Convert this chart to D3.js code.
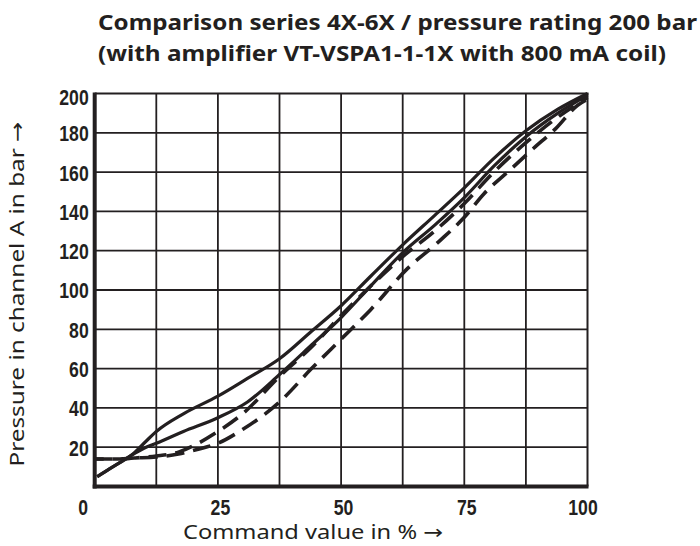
<!DOCTYPE html>
<html>
<head>
<meta charset="utf-8">
<script src="https://cdn.jsdelivr.net/npm/d3@7"></script>
<style>
  html, body { margin: 0; padding: 0; background: #fff; }
  svg { display: block; }
</style>
</head>
<body>
<svg id="chart" width="700" height="546"></svg>
<script>
// ---------- data ----------
const titleLines = [
  "Comparison series 4X-6X / pressure rating 200 bar",
  "(with amplifier VT-VSPA1-1-1X with 800 mA coil)"
];
const xAxisLabel = "Command value in %";
const yAxisLabel = "Pressure in channel A in bar";
const arrow = "→";

const xTickValues = [0, 25, 50, 75, 100];
const xGridValues = [0, 12.5, 25, 37.5, 50, 62.5, 75, 87.5, 100];
const yTickValues = [20, 40, 60, 80, 100, 120, 140, 160, 180, 200];

// solid curves (one series, rising / falling)
const solidUpperX = [0.5, 3, 5, 7.5, 10, 12.5, 18, 25, 31, 37.5, 44, 50, 56, 62.5, 69, 75, 81, 87.5, 94, 100];
const solidUpperY = [5, 9, 12, 16, 22, 28, 37, 46, 55, 65, 79, 92, 107, 123, 138, 152, 167, 181, 192, 200];
const solidLowerX = [0.5, 3, 5, 7.5, 10, 12.5, 18, 25, 31, 37.5, 44, 50, 56, 62.5, 69, 75, 81, 87.5, 94, 100];
const solidLowerY = [5, 9, 12, 16, 19.5, 22, 28, 35, 43, 57, 72, 86, 102, 119, 133, 147, 163, 178, 190, 199];
// dashed curves (comparison series)
const dashedUpperX = [0, 4, 8, 12.5, 17, 21, 25, 30, 37.5, 44, 50, 56, 62.5, 69, 75, 81, 87.5, 94, 100];
const dashedUpperY = [14, 14, 14.5, 15.5, 17.5, 22, 28, 37, 56, 71, 87, 102, 117, 130, 144, 160, 175, 188, 198];
const dashedLowerX = [0, 4, 8, 12.5, 17, 21, 25, 30, 37.5, 44, 50, 56, 63.5, 70, 75, 79, 84, 89, 93.5, 98, 100];
const dashedLowerY = [14, 14, 14.5, 15, 16.5, 19, 22, 29, 43, 60, 75, 90, 111, 125, 137, 149, 160.5, 172, 182, 194, 197];

// ---------- layout ----------
const svg = d3.select("#chart");
const L = 94.7, R = 587.5, T = 93.5, B = 486.5;
const x = d3.scaleLinear().domain([0, 100]).range([L, R]);
const y = d3.scaleLinear().domain([0, 200]).range([B, T]);
const ink = "#231f20";
const sansFont = "'Noto Sans', 'Open Sans', sans-serif";

// title
svg.append("g").selectAll("text").data(titleLines).join("text")
  .attr("x", 98)
  .attr("y", (d, i) => 30 + i * 31)
  .attr("font-family", sansFont)
  .attr("font-weight", "bold")
  .attr("font-size", 21)
  .attr("fill", ink)
  .attr("textLength", (d, i) => i === 0 ? 599 : 568)
  .attr("lengthAdjust", "spacingAndGlyphs")
  .text(d => d);

// grid
const grid = svg.append("g");
grid.selectAll("line.v").data(xGridValues.slice(1, -1)).join("line")
  .attr("x1", d => x(d)).attr("x2", d => x(d))
  .attr("y1", T).attr("y2", B)
  .attr("stroke", ink).attr("stroke-width", 1.8);
grid.selectAll("line.h").data(yTickValues.slice(0, -1)).join("line")
  .attr("x1", L).attr("x2", R)
  .attr("y1", d => y(d)).attr("y2", d => y(d))
  .attr("stroke", ink).attr("stroke-width", 1.8);
// frame: thin top/right, thick left/bottom
grid.append("line").attr("x1", L).attr("x2", R + 1).attr("y1", y(200)).attr("y2", y(200))
  .attr("stroke", ink).attr("stroke-width", 2);
grid.append("line").attr("x1", x(100)).attr("x2", x(100)).attr("y1", T).attr("y2", B)
  .attr("stroke", ink).attr("stroke-width", 2);
grid.append("line").attr("x1", x(0)).attr("x2", x(0)).attr("y1", T - 1).attr("y2", B + 2)
  .attr("stroke", ink).attr("stroke-width", 4);
grid.append("line").attr("x1", L - 2).attr("x2", R + 1).attr("y1", y(0)).attr("y2", y(0))
  .attr("stroke", ink).attr("stroke-width", 4);

// axes (labels only, via d3 axes); condensed bold digits
const tickFont = "'Liberation Sans', Arial, sans-serif";
const digitW = 9.8;
const yAxis = svg.append("g").attr("transform", `translate(${L},0)`)
  .call(d3.axisLeft(y).tickValues(yTickValues).tickSize(0).tickPadding(6));
yAxis.select(".domain").remove();
yAxis.selectAll("text")
  .attr("font-family", tickFont).attr("font-weight", "bold")
  .attr("font-size", 22).attr("fill", ink)
  .attr("dy", d => d === 200 ? "0.5em" : "0.36em")
  .attr("textLength", d => String(d).length * digitW)
  .attr("lengthAdjust", "spacingAndGlyphs");

const xAxis = svg.append("g").attr("transform", `translate(0,${B})`)
  .call(d3.axisBottom(x).tickValues(xTickValues).tickSize(0).tickPadding(13));
xAxis.select(".domain").remove();
xAxis.selectAll("text")
  .attr("font-family", tickFont).attr("font-weight", "bold")
  .attr("font-size", 22).attr("fill", ink)
  .attr("dx", d => d === 0 ? -12 : (d === 100 ? -5 : 2))
  .attr("textLength", d => String(d).length * digitW)
  .attr("lengthAdjust", "spacingAndGlyphs");

// axis titles
const xt = svg.append("text")
  .attr("x", 183).attr("y", 539)
  .attr("font-family", sansFont)
  .attr("font-size", 19.5).attr("fill", ink)
  .attr("textLength", 260).attr("lengthAdjust", "spacingAndGlyphs");
xt.append("tspan").text(xAxisLabel + " ");
xt.append("tspan").attr("font-family", "'DejaVu Sans', sans-serif").text(arrow);

const yt = svg.append("text")
  .attr("transform", "translate(24,294) rotate(-90)")
  .attr("text-anchor", "middle")
  .attr("font-family", sansFont)
  .attr("font-size", 20).attr("fill", ink)
  .attr("textLength", 345).attr("lengthAdjust", "spacingAndGlyphs");
yt.append("tspan").text(yAxisLabel + " ");
yt.append("tspan").attr("font-family", "'DejaVu Sans', sans-serif").text(arrow);

// curves
const line = d3.line().x(d => x(d[0])).y(d => y(d[1])).curve(d3.curveMonotoneX);
const curves = [
  { xs: solidUpperX, ys: solidUpperY, dash: null },
  { xs: solidLowerX, ys: solidLowerY, dash: null },
  { xs: dashedUpperX, ys: dashedUpperY, dash: "18,9" },
  { xs: dashedLowerX, ys: dashedLowerY, dash: "18,9", offset: 9 }
];
svg.append("g").selectAll("path").data(curves).join("path")
  .attr("d", c => line(d3.zip(c.xs, c.ys)))
  .attr("fill", "none")
  .attr("stroke", ink)
  .attr("stroke-width", c => c.dash ? 3.6 : 3.2)
  .attr("stroke-dasharray", c => c.dash)
  .attr("stroke-dashoffset", c => c.offset || 0);
</script>
</body>
</html>
